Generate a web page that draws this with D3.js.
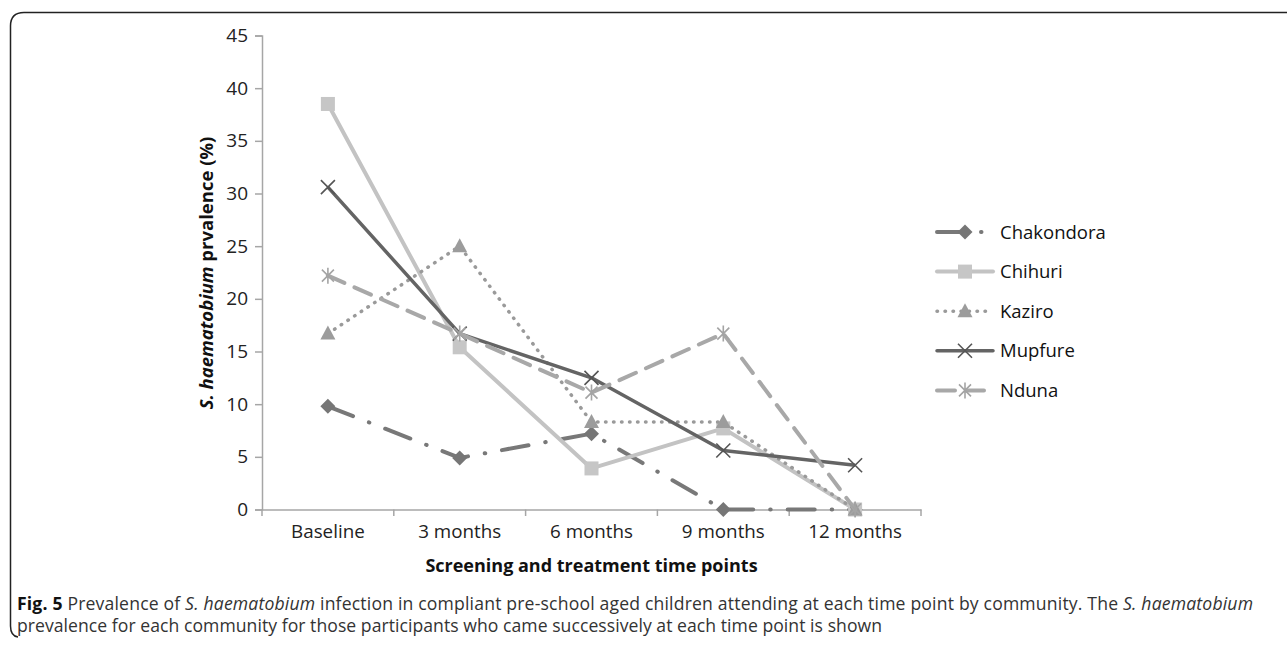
<!DOCTYPE html>
<html>
<head>
<meta charset="utf-8">
<script src="https://cdn.jsdelivr.net/npm/d3@7"></script>
<style>
  body { margin: 0; background: #fff; font-family: "Open Sans", "Noto Sans", sans-serif; }
  svg { display: block; }
  .tick text { fill: #222; }
</style>
</head>
<body>
<div id="container"><svg></svg></div>
<script>
// time points on the x axis
let time_points = ['Baseline', '3 months', '6 months', '9 months', '12 months'];
let y_ticks = [0, 5, 10, 15, 20, 25, 30, 35, 40, 45];

// prevalence (%) per community
let chakondora = [9.8, 4.9, 7.2, 0, 0];
let chihuri = [38.5, 15.4, 3.9, 7.7, 0];
let kaziro = [16.7, 25.0, 8.3, 8.3, 0];
let mupfure = [30.6, 16.7, 12.5, 5.6, 4.2];
let nduna = [22.2, 16.7, 11.1, 16.7, 0];

let series = [
    {name: 'Chakondora', values: chakondora, color: '#787878', width: 4, dash: '27 17 0.5 17', marker: 'diamond', mcolor: '#767676'},
    {name: 'Chihuri', values: chihuri, color: '#c3c3c3', width: 4, dash: null, marker: 'square', mcolor: '#c6c6c6'},
    {name: 'Kaziro', values: kaziro, color: '#9a9a9a', width: 3.5, dash: '0.5 7.5', marker: 'triangle', mcolor: '#9c9c9c'},
    {name: 'Mupfure', values: mupfure, color: '#646464', width: 3.5, dash: null, marker: 'x', mcolor: '#555'},
    {name: 'Nduna', values: nduna, color: '#a8a8a8', width: 4, dash: '18 11', marker: 'star', mcolor: '#a4a4a4'}
];

let width = 1287, height = 647;
let fontFamily = '"Open Sans", "Noto Sans", sans-serif';

function draw_marker(g, type, color) {
    if (type === 'diamond') {
        g.append('path').attr('d', 'M0,-7.5L7.5,0L0,7.5L-7.5,0Z').attr('fill', color);
    } else if (type === 'square') {
        g.append('rect').attr('x', -7).attr('y', -7).attr('width', 14).attr('height', 14).attr('fill', color);
    } else if (type === 'triangle') {
        g.append('path').attr('d', 'M0,-8L7.5,6L-7.5,6Z').attr('fill', color);
    } else if (type === 'x') {
        g.append('path').attr('d', 'M-7,-7L7,7M-7,7L7,-7')
            .attr('stroke', color).attr('stroke-width', 1.6).attr('fill', 'none');
    } else if (type === 'star') {
        g.append('path').attr('d', 'M-6,-6L6,6M-6,6L6,-6M0,-8L0,8')
            .attr('stroke', color).attr('stroke-width', 1.6).attr('fill', 'none');
    }
}

function draw_main() {
    let svg = d3.select('#container').select('svg')
        .attr('width', width)
        .attr('height', height);

    // figure frame (left bracket + top rule)
    svg.append('path')
        .attr('d', 'M1287,12.5L24,12.5Q10.5,12.5 10.5,26L10.5,626Q10.5,636 18,637')
        .attr('fill', 'none')
        .attr('stroke', '#222')
        .attr('stroke-width', 1.5);

    let x = d3.scaleBand()
        .domain(time_points)
        .range([262, 921])
        .paddingInner(0)
        .paddingOuter(0);
    let y = d3.scaleLinear()
        .domain([0, 45])
        .range([509.5, 35.5]);

    // y axis
    let gy = svg.append('g')
        .attr('transform', 'translate(262,0)')
        .call(d3.axisLeft(y).tickValues(y_ticks).tickSize(7).tickPadding(7).tickFormat(d => d))
        .attr('font-family', fontFamily)
        .attr('font-size', 19);
    gy.select('.domain').attr('stroke', '#a6a6a6').attr('stroke-width', 1.5);
    gy.selectAll('.tick line').attr('stroke', '#a6a6a6').attr('stroke-width', 1.5);

    // x axis labels
    let gx = svg.append('g')
        .attr('transform', 'translate(0,509.5)')
        .call(d3.axisBottom(x).tickSize(0).tickPadding(15))
        .attr('font-family', fontFamily)
        .attr('font-size', 18.8);
    gx.select('.domain').attr('stroke', '#a6a6a6').attr('stroke-width', 1.5);

    // x tick marks at band boundaries
    let bounds = time_points.map(d => x(d)).concat([x(time_points[time_points.length - 1]) + x.step()]);
    svg.append('g').selectAll('line')
        .data(bounds)
        .enter().append('line')
        .attr('x1', d => d).attr('x2', d => d)
        .attr('y1', 509.5).attr('y2', 516)
        .attr('stroke', '#a6a6a6')
        .attr('stroke-width', 1.5);

    // y axis title
    let yt = svg.append('text')
        .attr('transform', 'translate(213,273) rotate(-90)')
        .attr('text-anchor', 'middle')
        .attr('font-family', fontFamily)
        .attr('font-size', 18.5)
        .attr('font-weight', 'bold')
        .attr('fill', '#111');
    yt.append('tspan').attr('font-style', 'italic').text('S. haematobium');
    yt.append('tspan').text(' prvalence (%)');

    // x axis title
    svg.append('text')
        .attr('x', 591.5).attr('y', 572)
        .attr('text-anchor', 'middle')
        .attr('font-family', fontFamily)
        .attr('font-size', 18)
        .attr('font-weight', 'bold')
        .attr('fill', '#111')
        .text('Screening and treatment time points');

    let cx = d => x(d) + x.bandwidth() / 2;
    let line = d3.line()
        .x(d => cx(d.t))
        .y(d => y(d.v));

    // lines
    series.forEach(s => {
        let pts = s.values.map((v, i) => ({t: time_points[i], v: v}));
        svg.append('path')
            .datum(pts)
            .attr('d', line)
            .attr('fill', 'none')
            .attr('stroke', s.color)
            .attr('stroke-width', s.width)
            .attr('stroke-linecap', s.dash ? 'round' : 'butt')
            .attr('stroke-linejoin', 'round')
            .attr('stroke-dasharray', s.dash);
        pts.forEach(p => {
            let g = svg.append('g').attr('transform', `translate(${cx(p.t)},${y(p.v)})`);
            draw_marker(g, s.marker, s.mcolor);
        });
    });

    // legend
    let legend = svg.append('g').attr('transform', 'translate(935,232)');
    series.forEach((s, i) => {
        let g = legend.append('g').attr('transform', `translate(0,${i * 39.6})`);
        g.append('line')
            .attr('x1', 2).attr('x2', 58)
            .attr('y1', 0).attr('y2', 0)
            .attr('stroke', s.color)
            .attr('stroke-width', s.width)
            .attr('stroke-linecap', 'round')
            .attr('stroke-dasharray', s.dash ? (s.name === 'Chakondora' ? '30 14 0.5 14' : s.dash) : null);
        let m = g.append('g').attr('transform', 'translate(30,0)');
        draw_marker(m, s.marker, s.mcolor);
        g.append('text')
            .attr('x', 65).attr('y', 6.5)
            .attr('font-family', fontFamily)
            .attr('font-size', 18.5)
            .attr('fill', '#111')
            .text(s.name);
    });

    // caption
    let cap = svg.append('text')
        .attr('x', 17).attr('y', 610)
        .attr('font-family', fontFamily)
        .attr('font-size', 17.6)
        .attr('fill', '#333')
        .attr('textLength', 1236)
        .attr('lengthAdjust', 'spacing');
    cap.append('tspan').attr('font-weight', 'bold').attr('fill', '#111').text('Fig. 5');
    cap.append('tspan').text(' Prevalence of ');
    cap.append('tspan').attr('font-style', 'italic').text('S. haematobium');
    cap.append('tspan').text(' infection in compliant pre-school aged children attending at each time point by community. The ');
    cap.append('tspan').attr('font-style', 'italic').text('S. haematobium');
    svg.append('text')
        .attr('x', 17).attr('y', 631.5)
        .attr('font-family', fontFamily)
        .attr('font-size', 17.6)
        .attr('fill', '#333')
        .attr('textLength', 865)
        .attr('lengthAdjust', 'spacing')
        .text('prevalence for each community for those participants who came successively at each time point is shown');
}

draw_main();
</script>
</body>
</html>
